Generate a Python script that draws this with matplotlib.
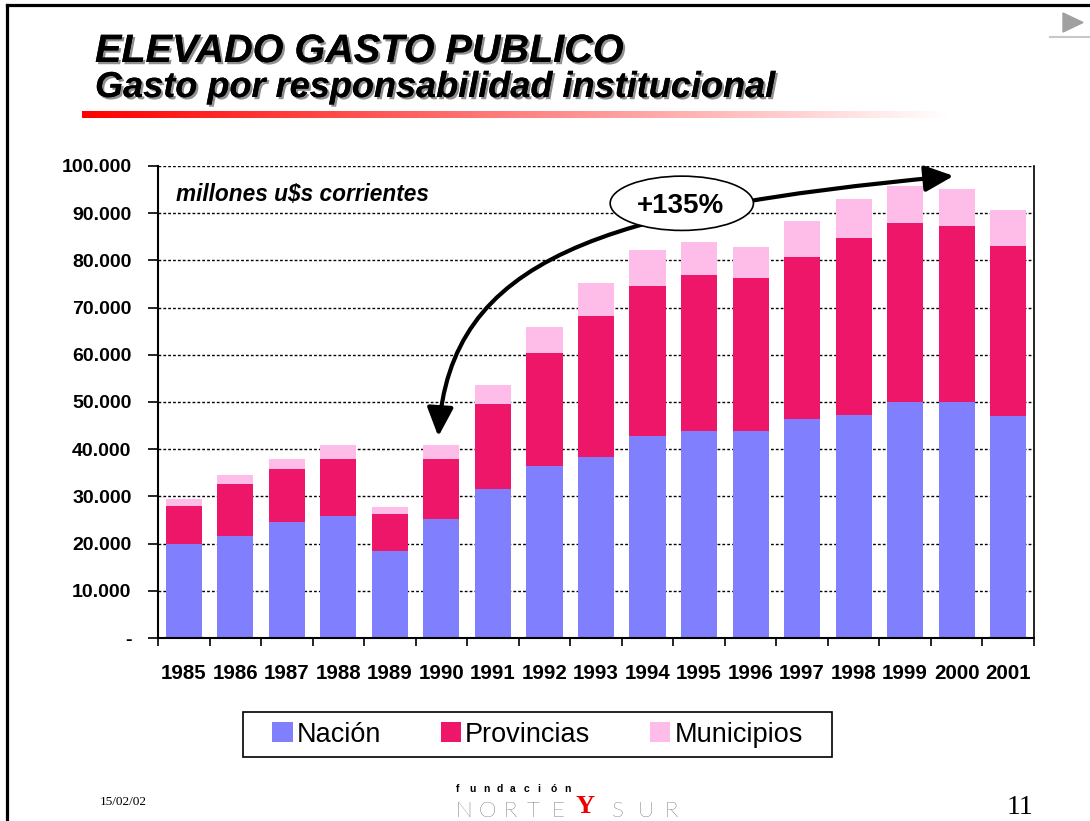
import numpy as np
import matplotlib
matplotlib.use('Agg')
import matplotlib.pyplot as plt
import matplotlib.patheffects as pe
from matplotlib.patches import Rectangle, Ellipse, Polygon, FancyArrowPatch, Patch
from matplotlib.path import Path
from matplotlib.lines import Line2D
from matplotlib.ticker import FuncFormatter

plt.rcParams['font.family'] = ['Liberation Sans', 'DejaVu Sans']

# datos (millones u$s corrientes)
years = ['1985', '1986', '1987', '1988', '1989', '1990', '1991', '1992', '1993',
         '1994', '1995', '1996', '1997', '1998', '1999', '2000', '2001']
nacion = [20000, 21700, 24600, 25900, 18500, 25300, 31600, 36500, 38400,
          42700, 43900, 43900, 46300, 47300, 50100, 50100, 47100]
provincias = [8000, 11000, 11300, 12100, 7800, 12700, 17900, 23800, 29800,
              31800, 33000, 32300, 34400, 37400, 37800, 37200, 35900]
municipios = [1500, 1900, 2100, 2800, 1500, 2800, 4200, 5500, 7000,
              7700, 7000, 6600, 7600, 8300, 7900, 7800, 7700]

colors = ['#8080FF', '#EE1669', '#FDBDE8']
labels = ['Nación', 'Provincias', 'Municipios']

W, H = 1090, 821
fig = plt.figure(figsize=(W / 100, H / 100), dpi=100)
fig.patch.set_facecolor('white')

# marco de la diapositiva
fig.add_artist(Line2D([7 / W, 1], [1 - 5 / H, 1 - 5 / H], color='black', lw=2.3))
fig.add_artist(Line2D([7 / W, 7 / W], [0, 1 - 5 / H], color='black', lw=2.3))
fig.add_artist(Polygon([[1063 / W, 1 - 13 / H], [1063 / W, 1 - 32 / H], [1083 / W, 1 - 22.5 / H]],
                       closed=True, color='#A0A0A0'))
fig.add_artist(Line2D([1050 / W, 1], [1 - 37 / H, 1 - 37 / H], color='#C8C8C8', lw=1.5))

# titulos
shadow = [pe.withSimplePatchShadow(offset=(1.6, -1.6), shadow_rgbFace='#909090', alpha=1.0), pe.Normal()]
fig.text(95 / W, 1 - 62 / H, 'ELEVADO GASTO PUBLICO', fontsize=28.5, fontweight='bold',
         fontstyle='italic', va='baseline', ha='left', path_effects=shadow)
fig.text(95 / W, 1 - 97 / H, 'Gasto por responsabilidad institucional', fontsize=26,
         fontweight='bold', fontstyle='italic', va='baseline', ha='left', path_effects=shadow)

# barra roja degradada
gax = fig.add_axes([82 / W, 1 - 118 / H, 868 / W, 7 / H])
grad = np.linspace(0, 1, 256)
img = np.ones((1, 256, 3))
img[0, :, 1] = grad
img[0, :, 2] = grad
gax.imshow(img, aspect='auto', extent=(0, 1, 0, 1))
gax.axis('off')

# grafico
ax = fig.add_axes([158 / W, 1 - 638 / H, 876 / W, 472 / H])
x = np.arange(len(years))
bottom2 = np.array(nacion) + np.array(provincias)
ax.bar(x, nacion, width=0.7, color=colors[0], zorder=2)
ax.bar(x, provincias, width=0.7, bottom=nacion, color=colors[1], zorder=2)
ax.bar(x, municipios, width=0.7, bottom=bottom2, color=colors[2], zorder=2)

ax.set_xlim(-0.5, len(years) - 0.5)
ax.set_ylim(0, 100000)
ax.set_yticks(np.arange(0, 100001, 10000))
ax.yaxis.set_major_formatter(FuncFormatter(lambda v, p: '-' if v == 0 else f'{v:,.0f}'.replace(',', '.')))
ax.set_xticks(x)
ax.set_xticklabels(years)
ax.set_xticks(np.arange(-0.5, len(years), 1), minor=True)
ax.tick_params(axis='x', which='major', length=0, pad=19, labelsize=14.8)
ax.tick_params(axis='x', which='minor', length=6, width=1.2, direction='out')
ax.tick_params(axis='y', which='major', length=7, width=1.2, direction='out', pad=12, labelsize=14)
for lab in ax.get_xticklabels() + ax.get_yticklabels():
    lab.set_fontweight('bold')

ax.yaxis.grid(True, linestyle=(0, (2, 1.5)), color='black', lw=1.0, zorder=0)
ax.set_axisbelow(True)
for s in ['left', 'bottom']:
    ax.spines[s].set_linewidth(1.5)
ax.spines['right'].set_linewidth(1.2)
ax.spines['top'].set_visible(False)

ax.text(0.02, 0.94, 'millones u$s corrientes', transform=ax.transAxes, fontsize=16.3,
        fontweight='bold', fontstyle='italic', va='center', ha='left')

# flecha curva 1990 -> 2000
verts = [(4.94, 42700), (5.17, 80300), (8.08, 90900), (14.94, 97900)]
arrow = FancyArrowPatch(path=Path(verts, [Path.MOVETO, Path.CURVE4, Path.CURVE4, Path.CURVE4]),
                        arrowstyle='<|-|>,head_length=1.75,head_width=0.8', mutation_scale=10,
                        lw=3, color='black', shrinkA=0, shrinkB=0, clip_on=False, zorder=5)
ax.add_patch(arrow)
ax.add_patch(Ellipse((9.665, 92100), 2.78, 11500, facecolor='white', edgecolor='black',
                     lw=1.2, clip_on=False, zorder=6))
ax.text(9.64, 91600, '+135%', fontsize=20, fontweight='bold', ha='center', va='center', zorder=7)

# leyenda
fig.add_artist(Rectangle((243 / W, 1 - 757 / H), 589 / W, 45 / H, facecolor='white',
                         edgecolor='black', lw=1.2))
handles = [Patch(facecolor=c, edgecolor='none') for c in colors]
fig.legend(handles, labels, loc='center', bbox_to_anchor=(537.5 / W, 1 - 734.5 / H), ncol=3,
           frameon=False, fontsize=19.5, handlelength=0.75, handleheight=0.75, handletextpad=0.15,
           columnspacing=2.2, borderpad=0)

# pie
fig.text(100 / W, 1 - 802 / H, '15/02/02', fontsize=9.5, family='Liberation Serif', va='center')
fig.text(1020 / W, 1 - 807 / H, '11', fontsize=20, family='Liberation Serif', va='center', ha='center')
for i, ch in enumerate('fundación'):
    fig.text((456 + i * 13.5) / W, 1 - 789 / H, ch, fontsize=7.5, fontweight='bold',
             va='center', ha='left')
for i, ch in enumerate('NORTE'):
    fig.text((455 + i * 24) / W, 1 - 801 / H, ch, fontsize=16, family=['Lato', 'DejaVu Sans'],
             fontweight='light', va='top', ha='left')
fig.text(576 / W, 1 - 795 / H, 'Y', fontsize=19, family='Liberation Serif', fontweight='bold',
         color='#EE0000', va='top', ha='left')
for i, ch in enumerate('SUR'):
    fig.text((612 + i * 26) / W, 1 - 801 / H, ch, fontsize=16, family=['Lato', 'DejaVu Sans'],
             fontweight='light', va='top', ha='left')

fig.savefig('out.png', dpi=100)
